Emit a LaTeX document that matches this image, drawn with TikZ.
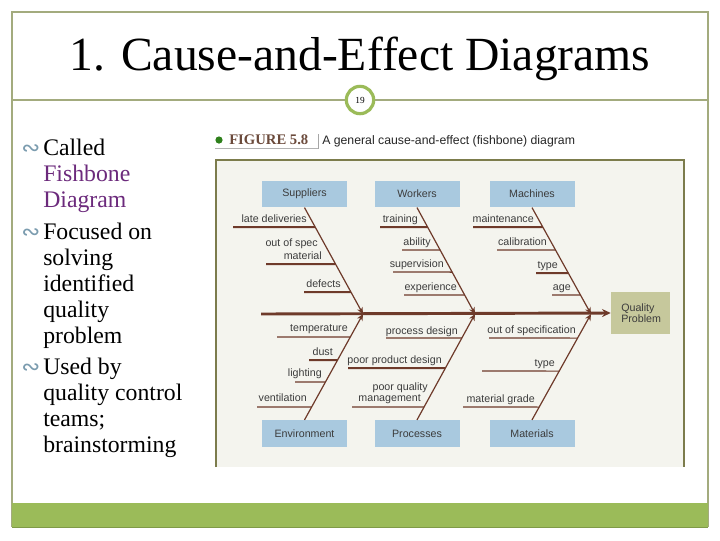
\documentclass[tikz,border=0pt]{standalone}
\usepackage{fontspec}
\setmainfont{Liberation Serif}
\newfontfamily\figfont{Liberation Sans}
\newfontfamily\symfont{DejaVu Sans}
\usetikzlibrary{arrows.meta,calc}
\definecolor{framec}{HTML}{A3AB7E}
\definecolor{accent}{HTML}{9BBB59}
\definecolor{accentdk}{HTML}{7F9A48}
\definecolor{bonec}{HTML}{6E3A2A}
\definecolor{boxblue}{HTML}{A9C9DF}
\definecolor{qpc}{HTML}{C6C89C}
\definecolor{figbg}{HTML}{F4F4EE}
\definecolor{figframe}{HTML}{7C7C4C}
\definecolor{purp}{HTML}{6C2A7C}
\definecolor{bulc}{HTML}{7B9CAF}
\definecolor{hdrbrown}{HTML}{6B4A3B}
\definecolor{labc}{HTML}{3C3C3C}
\newcommand\cause[5]{%
  \coordinate (cL) at (#3,#4);
  \coordinate (cR) at (900,#4);
  \draw[#5] (cL) -- (intersection of #1--#2 and cL--cR);}
\begin{document}
\begin{tikzpicture}[x=0.75pt,y=-0.75pt,
  catbox/.style={fill=boxblue, minimum width=63.75pt, minimum height=20pt, inner sep=0pt,
    font=\figfont\fontsize{8}{9.5}\selectfont, text=labc},
  lab/.style={font=\figfont\fontsize{8}{9.5}\selectfont, text=labc, inner sep=0pt},
  bone/.style={draw=bonec, line width=0.9pt, -{Stealth[length=5pt,width=4.5pt]}},
  spine/.style={draw=bonec, line width=2.2pt, -{Stealth[length=6.5pt,width=6pt]}},
  thickc/.style={draw=bonec, line width=1.5pt},
  thinc/.style={draw=bonec, line width=0.8pt},
  midc/.style={draw=bonec, line width=1.1pt},
  bodytext/.style={font=\fontsize{17.8}{19.5}\selectfont, inner sep=0pt, anchor=base west},
  bul/.style={font=\symfont\fontsize{17}{17}\selectfont, text=bulc, inner sep=0pt, anchor=base west}]
\fill[white] (0,0) rectangle (720,540);
\useasboundingbox (0,0) rectangle (720,540);
% slide frame
\draw[framec, line width=0.8pt] (12,527) -- (12,12) -- (708,12) -- (708,527);
\draw[framec, line width=0.8pt] (12,100) -- (708,100);
\node[circle, draw=accent, line width=2.4pt, fill=white, minimum size=20.5pt, inner sep=0pt,
  font=\fontsize{7}{8}\selectfont] (pg) at (360,100) {19};
\node[font=\fontsize{35.7}{40}\selectfont, anchor=base, inner sep=0pt] (title) at (360,70)
  {1. Cause-and-Effect Diagrams};
% left text
\node[bul] (b1) at (21,155) {∾};
\node[bodytext] (t1) at (43,155) {Called};
\node[bodytext, text=purp] (t2) at (43,181) {Fishbone};
\node[bodytext, text=purp] (t3) at (43,207) {Diagram};
\node[bul] (b2) at (21,239) {∾};
\node[bodytext] (t4) at (43,239) {Focused on};
\node[bodytext] (t5) at (43,265) {solving};
\node[bodytext] (t6) at (43,291) {identified};
\node[bodytext] (t7) at (43,317) {quality};
\node[bodytext] (t8) at (43,343) {problem};
\node[bul] (b3) at (21,374) {∾};
\node[bodytext] (t9) at (43,374) {Used by};
\node[bodytext] (t10) at (43,400) {quality control};
\node[bodytext] (t11) at (43,426) {teams;};
\node[bodytext] (t12) at (43,452) {brainstorming};
% figure header
\fill[green!40!black!70!accent] (219,140) circle (3.6);
\node[font=\bfseries\fontsize{11}{12}\selectfont, text=hdrbrown, anchor=base west, inner sep=0pt]
  (fig) at (229,144) {FIGURE 5.8};
\draw[gray!60, line width=0.5pt] (215,148) -- (318,148);
\draw[gray!70, line width=0.6pt] (318,134) -- (318,149);
\node[font=\figfont\fontsize{9.2}{11}\selectfont, text=black!85, anchor=base west, inner sep=0pt]
  (cap) at (322,144) {A general cause-and-effect (fishbone) diagram};
% figure panel
\fill[figbg] (216,160) rectangle (684,467);
\draw[figframe, line width=0.8pt] (216,467) -- (216,160) -- (684,160) -- (684,467);
% category boxes
\node[catbox] (sup) at (304.5,194) {Suppliers};
\node[catbox] (wor) at (417,194) {Workers};
\node[catbox] (mac) at (532,194) {Machines};
\node[catbox] (env) at (304.5,433.5) {Environment};
\node[catbox] (pro) at (417,433.5) {Processes};
\node[catbox] (mat) at (532,433.5) {Materials};
\node[fill=qpc, minimum width=44.25pt, minimum height=31.5pt, inner sep=0pt] (qp) at (640.5,313) {};
\node[lab, align=left, anchor=west] (qpt) at (621,313) {Quality\\[-1pt]Problem};
% spine
\coordinate (spL) at (261,314);
\coordinate (s1) at (363,314);
\coordinate (s2) at (475,314);
\coordinate (s3) at (591,314);
\draw[spine] (spL) -- (qp.west);
% main bones
\draw[bone] (sup.south) -- (s1);
\draw[bone] (wor.south) -- (s2);
\draw[bone] (mac.south) -- (s3);
\draw[bone] (env.north) -- (s1);
\draw[bone] (pro.north) -- (s2);
\draw[bone] (mat.north) -- (s3);
% Suppliers causes
\cause{sup.south}{s1}{233}{227}{thickc}
\cause{sup.south}{s1}{266}{264}{thickc}
\cause{sup.south}{s1}{304}{292}{thickc}
\node[lab, anchor=base east] (c1) at (307,222) {late deliveries};
\node[lab, anchor=base east] (c2) at (318,246) {out of spec};
\node[lab, anchor=base east] (c3) at (322,259) {material};
\node[lab, anchor=base east] (c4) at (341,287) {defects};
% Workers causes
\cause{wor.south}{s2}{380}{227}{thickc}
\cause{wor.south}{s2}{402}{250}{thinc}
\cause{wor.south}{s2}{393}{272}{midc}
\cause{wor.south}{s2}{404}{295}{thinc}
\node[lab, anchor=base east] (c5) at (418,222) {training};
\node[lab, anchor=base east] (c6) at (431,245) {ability};
\node[lab, anchor=base east] (c7) at (444,267) {supervision};
\node[lab, anchor=base east] (c8) at (457,290) {experience};
% Machines causes
\cause{mac.south}{s3}{473}{227}{thickc}
\cause{mac.south}{s3}{497}{250}{thinc}
\cause{mac.south}{s3}{536}{273}{thickc}
\cause{mac.south}{s3}{552}{295}{thinc}
\node[lab, anchor=base east] (c9) at (534,222) {maintenance};
\node[lab, anchor=base east] (c10) at (547,245) {calibration};
\node[lab, anchor=base east] (c11) at (558,268) {type};
\node[lab, anchor=base east] (c12) at (571,290) {age};
% Environment causes
\cause{env.north}{s1}{277}{337}{thinc}
\cause{env.north}{s1}{309}{360}{thickc}
\cause{env.north}{s1}{295}{382}{thinc}
\cause{env.north}{s1}{257}{407}{thinc}
\node[lab, anchor=base east] (c13) at (348,331) {temperature};
\node[lab, anchor=base east] (c14) at (333,355) {dust};
\node[lab, anchor=base east] (c15) at (322,376) {lighting};
\node[lab, anchor=base east] (c16) at (307,401) {ventilation};
% Processes causes
\cause{pro.north}{s2}{386}{338}{thinc}
\cause{pro.north}{s2}{348}{368}{thickc}
\cause{pro.north}{s2}{352}{407}{thinc}
\node[lab, anchor=base east] (c17) at (458,334) {process design};
\node[lab, anchor=base east] (c18) at (442,363) {poor product design};
\node[lab, anchor=base east] (c19) at (428,390) {poor quality};
\node[lab, anchor=base east] (c20) at (421,401) {management};
% Materials causes
\cause{mat.north}{s3}{489}{338}{thinc}
\cause{mat.north}{s3}{482}{371}{thinc}
\cause{mat.north}{s3}{463}{407}{thinc}
\node[lab, anchor=base east] (c21) at (576,333) {out of specification};
\node[lab, anchor=base east] (c22) at (555,366) {type};
\node[lab, anchor=base east] (c23) at (535,402) {material grade};
% bottom bar
\fill[accent] (12,503) rectangle (708,527);
\draw[accentdk, line width=0.6pt] (12,527) -- (708,527);
\end{tikzpicture}
\end{document}
